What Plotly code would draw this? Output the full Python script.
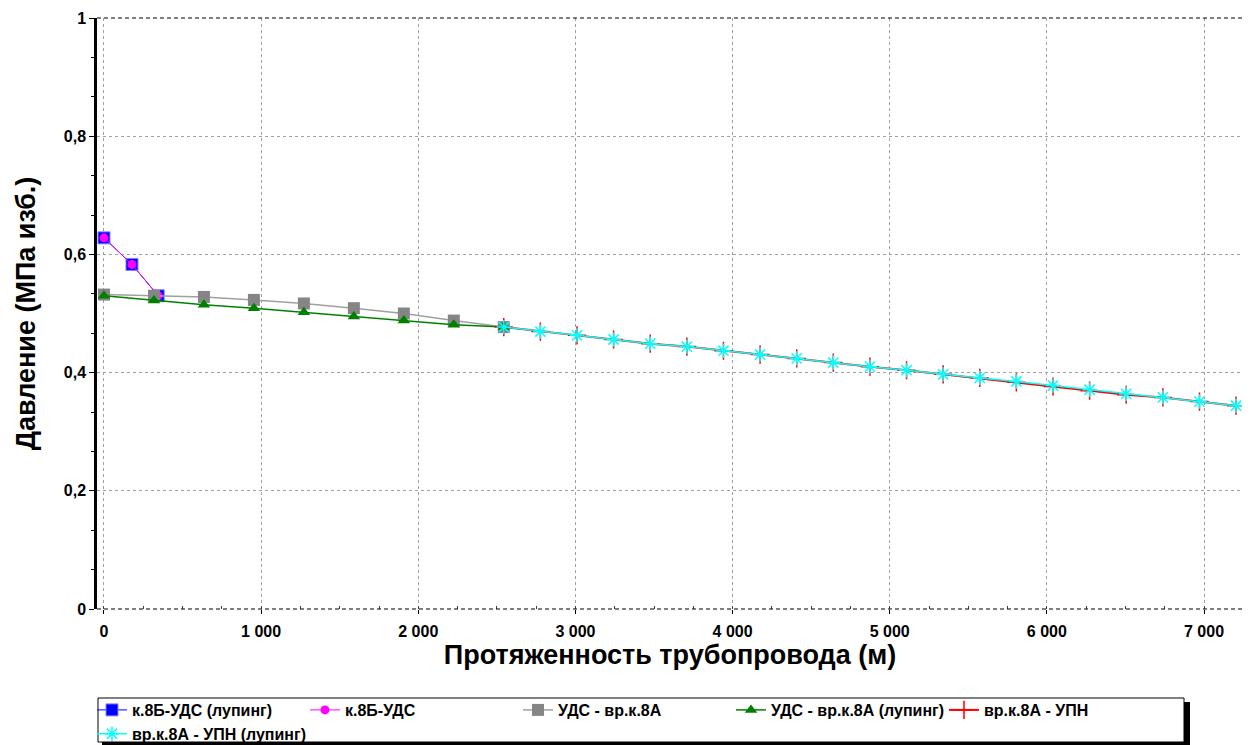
import plotly.graph_objects as go

# ---------------- data ----------------
lup_x = [0, 178, 345]
lup_y = [0.628, 0.583, 0.530]

uds_x = [0, 318, 636, 954, 1272, 1590, 1908, 2226, 2544]
uds_y = [0.532, 0.530, 0.528, 0.523, 0.517, 0.509, 0.500, 0.488, 0.477]
uds_lup_y = [0.530, 0.522, 0.515, 0.509, 0.502, 0.495, 0.488, 0.481, 0.477]

upn_x = [2544, 2777, 3010, 3243, 3476, 3709, 3942, 4175, 4408, 4641, 4874,
         5107, 5340, 5573, 5806, 6039, 6272, 6505, 6738, 6971, 7204]
upn_y = [0.477, 0.4695, 0.463, 0.456, 0.449, 0.444, 0.437, 0.4305, 0.424, 0.417, 0.410,
         0.404, 0.397, 0.391, 0.3835, 0.3765, 0.3695, 0.3625, 0.358, 0.351, 0.344]
upn_lup_y = [0.477, 0.4695, 0.463, 0.456, 0.449, 0.444, 0.437, 0.4305, 0.424, 0.417, 0.410,
             0.404, 0.397, 0.391, 0.385, 0.378, 0.371, 0.364, 0.358, 0.351, 0.344]

names = ["к.8Б-УДС (лупинг)", "к.8Б-УДС", "УДС - вр.к.8А",
         "УДС - вр.к.8А (лупинг)", "вр.к.8А - УПН", "вр.к.8А - УПН (лупинг)"]

x_ticks = [0, 1000, 2000, 3000, 4000, 5000, 6000, 7000]
y_ticks = [0, 0.2, 0.4, 0.6, 0.8, 1]

x_title = "Протяженность трубопровода (м)"
y_title = "Давление (МПа изб.)"

# ---------------- layout geometry (page pixels) ----------------
OFF = 8                      # default body margin of the html page
W, H = 1250 - OFF, 745 - OFF
PLOT_L, PLOT_R, PLOT_T, PLOT_B = 97, 1243, 18, 609
ML = PLOT_L - OFF
MT = PLOT_T - OFF
MR = W - (PLOT_R - OFF)
MB = H - (PLOT_B - OFF)


def px_x(p):
    return (p - PLOT_L) / (PLOT_R - PLOT_L)


def px_y(p):
    return (PLOT_B - p) / (PLOT_B - PLOT_T)


FONT = "Liberation Sans, Arial, sans-serif"

fig = go.Figure()

fig.add_trace(go.Scatter(
    x=lup_x, y=lup_y, name=names[0], mode="lines+markers",
    line=dict(color="#0000ff", width=1),
    marker=dict(symbol="square", size=12, color="#0000ff",
                line=dict(color="#8080ff", width=1))))
fig.add_trace(go.Scatter(
    x=lup_x, y=lup_y, name=names[1], mode="lines+markers",
    line=dict(color="#ff00ff", width=1),
    marker=dict(symbol="circle", size=9, color="#ff00ff")))
fig.add_trace(go.Scatter(
    x=uds_x, y=uds_y, name=names[2], mode="lines+markers",
    line=dict(color="#a0a0a0", width=1.5),
    marker=dict(symbol="square", size=12, color="#858585")))
fig.add_trace(go.Scatter(
    x=uds_x, y=uds_lup_y, name=names[3], mode="lines+markers",
    line=dict(color="#008000", width=1.5),
    marker=dict(symbol="triangle-up", size=11, color="#008000")))
fig.add_trace(go.Scatter(
    x=upn_x, y=upn_y, name=names[4], mode="lines+markers",
    line=dict(color="#ff0000", width=2),
    marker=dict(symbol="cross-thin-open", size=13, color="#ff0000",
                line=dict(color="#ff0000", width=1.5))))
fig.add_trace(go.Scatter(
    x=upn_x, y=upn_lup_y, name=names[5], mode="lines+markers",
    line=dict(color="#00ffff", width=1.5),
    marker=dict(symbol="asterisk-open", size=12, color="#00ffff",
                line=dict(color="#00ffff", width=1.5))))

shapes = [
    # legend shadow and box
    dict(type="rect", xref="paper", yref="paper",
         x0=px_x(102), x1=px_x(1190), y0=px_y(702), y1=px_y(747),
         fillcolor="black", line=dict(width=0), layer="below"),
    dict(type="rect", xref="paper", yref="paper",
         x0=px_x(98), x1=px_x(1184), y0=px_y(698), y1=px_y(742),
         fillcolor="white", line=dict(color="black", width=1), layer="below"),
    # frame lines
    dict(type="line", xref="paper", yref="paper", x0=0, x1=1, y0=1, y1=1,
         line=dict(color="black", width=1, dash="4px,3px")),
    dict(type="line", xref="paper", yref="paper", x0=0, x1=1, y0=0, y1=0,
         line=dict(color="black", width=1, dash="4px,3px")),
    dict(type="line", xref="paper", yref="paper", x0=1, x1=1, y0=0, y1=1,
         line=dict(color="#808080", width=1.5)),
]

fig.update_layout(
    width=W, height=H,
    margin=dict(l=ML, r=MR, t=MT, b=MB, autoexpand=False),
    paper_bgcolor="white", plot_bgcolor="white",
    separators=", ",
    font=dict(family=FONT, size=16, color="black", weight="bold"),
    shapes=shapes,
    showlegend=True,
    legend=dict(
        orientation="h", entrywidth=168, entrywidthmode="pixels",
        x=px_x(92), xanchor="left", y=px_y(693), yanchor="top",
        bgcolor="rgba(0,0,0,0)", borderwidth=0,
        font=dict(family=FONT, size=16, color="black", weight="bold"),
        itemwidth=30, tracegroupgap=0,
    ),
    xaxis=dict(
        range=[-44.5, 7248], tickvals=x_ticks, separatethousands=True,
        showgrid=True, gridcolor="#a0a0a0", griddash="3px,3px", gridwidth=1,
        zeroline=False, showline=False,
        ticks="outside", ticklen=4, tickcolor="black",
        ticklabelstandoff=4,
        minor=dict(dtick=250, tick0=0, ticks="inside", ticklen=3, tickcolor="#404040",
                   showgrid=False),
        tickfont=dict(family=FONT, size=16, color="black", weight="bold"),
        title=dict(text=x_title, standoff=4,
                   font=dict(family=FONT, size=27, color="black", weight="bold")),
    ),
    yaxis=dict(
        range=[0, 1], tickvals=y_ticks,
        showgrid=True, gridcolor="#a0a0a0", griddash="3px,3px", gridwidth=1,
        zeroline=False, showline=True, linecolor="black", linewidth=2.5,
        ticks="outside", ticklen=5, tickcolor="black",
        minor=dict(dtick=0.2 / 3, tick0=0, ticks="outside", ticklen=3, tickcolor="black",
                   showgrid=False),
        tickfont=dict(family=FONT, size=16, color="black", weight="bold"),
        title=dict(text=y_title, standoff=21,
                   font=dict(family=FONT, size=27, color="black", weight="bold")),
    ),
)

fig.write_html("out.html")
